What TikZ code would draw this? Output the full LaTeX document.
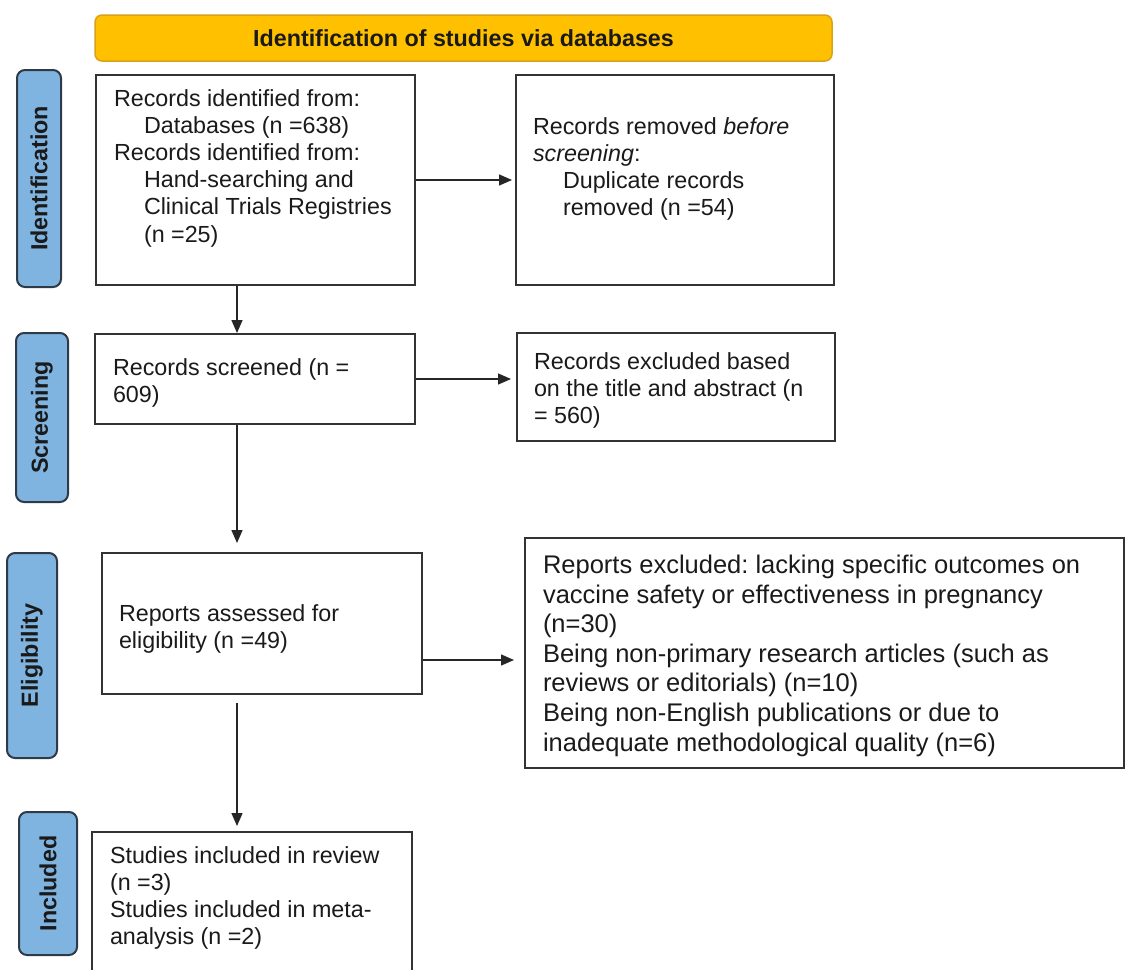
\documentclass[tikz,border=0pt]{standalone}
\usepackage{fontspec}
\setmainfont{Liberation Sans}
\usetikzlibrary{arrows.meta,calc}
\frenchspacing
\definecolor{bannerfill}{HTML}{FFC000}
\definecolor{bannerdraw}{HTML}{D9A21B}
\definecolor{labelfill}{HTML}{80B4E0}
\definecolor{labeldraw}{HTML}{2E3A45}
\definecolor{boxdraw}{HTML}{333333}
\definecolor{txt}{HTML}{1A1A1A}
\newcommand\bxt[5]{\begin{minipage}[c][#2pt][t]{#1pt}\vspace*{#4pt}\raggedright\leftskip=#3pt\relax\strut #5\par\end{minipage}}
\tikzset{
  txtstyle/.style={font=\fontsize{23.3}{27.2}\selectfont, text=txt},
  flowbox/.style={txtstyle, draw=boxdraw, line width=2pt, fill=white, inner sep=0pt, anchor=north west},
  phase/.style={draw=labeldraw, line width=2pt, fill=labelfill, rounded corners=8pt, rotate=90,
    inner sep=0pt, font=\bfseries\fontsize{23.3}{27}\selectfont, text=txt},
  banner/.style={draw=bannerdraw, line width=1.5pt, fill=bannerfill, rounded corners=7pt,
    inner sep=0pt, font=\bfseries\fontsize{23.3}{27}\selectfont, text=txt},
  arr/.style={draw=black!85, line width=1.4pt, -{Triangle[length=13pt,width=11pt]}}
}
\begin{document}
\begin{tikzpicture}[x=1pt,y=-1pt]
\useasboundingbox (0,0) rectangle (1126,969);
\fill[white] (0,0) rectangle (1126,969);
\clip (0,0) rectangle (1126,969);
\coordinate (cx) at (237,0);
% banner
\node[banner, minimum width=737pt, minimum height=46pt] (ban) at (463.5,38) {Identification of studies via databases};
% phase labels
\node[phase, minimum width=217pt, minimum height=44pt] (p1) at (39,178.5) {Identification};
\node[phase, minimum width=169pt, minimum height=52pt] (p2) at (42,417.5) {Screening};
\node[phase, minimum width=205pt, minimum height=50pt] (p3) at (32,655.5) {Eligibility};
\node[phase, minimum width=143pt, minimum height=58pt] (p4) at (48,883.5) {Included};
% boxes
\node[flowbox] (b1) at (95,74) {\bxt{319}{210}{18}{12}{Records identified from:\\
  \hspace*{30pt}Databases (n =638)\\
  Records identified from:\\
  \hspace*{30pt}Hand-searching and\\
  \hspace*{30pt}Clinical Trials Registries\\
  \hspace*{30pt}(n =25)}};
\node[flowbox] (b2) at (515,74) {\bxt{318}{210}{17}{40}{Records removed \textit{before}\\
  \textit{screening}:\\
  \hspace*{30pt}Duplicate records\\
  \hspace*{30pt}removed (n =54)}};
\node[flowbox] (b3) at (94,333) {\bxt{320}{90}{18}{22}{Records screened (n =\\609)}};
\node[flowbox] (b4) at (516,332) {\bxt{318}{108}{17}{17}{Records excluded based\\
  on the title and abstract (n\\= 560)}};
\node[flowbox] (b5) at (101,552) {\bxt{320}{141}{17}{49}{Reports assessed for\\eligibility (n =49)}};
\node[flowbox, font=\fontsize{25.5}{29.6}\selectfont] (b6) at (524,537) {\bxt{599}{230}{18}{14.8}{Reports excluded: lacking specific outcomes on\\
  vaccine safety or effectiveness in pregnancy\\
  (n=30)\\
  Being non-primary research articles (such as\\
  reviews or editorials) (n=10)\\
  Being non-English publications or due to\\
  inadequate methodological quality (n=6)}};
\node[flowbox] (b7) at (91,831) {\bxt{320}{160}{18}{12}{Studies included in review\\
  (n =3)\\
  Studies included in meta-\\
  analysis (n =2)}};
% connectors
\draw[arr, shorten >=3pt] (b1.east) -- (b1.east -| b2.west);
\draw[arr] (b1.south -| cx) -- (b3.north -| cx);
\draw[arr, shorten >=5pt] (b3.east) -- (b3.east -| b4.west);
\draw[arr, shorten >=9pt] (b3.south -| cx) -- (b5.north -| cx);
\coordinate (e5) at ($(b5.east)+(0,36.5)$);
\draw[arr, shorten >=10pt] (e5) -- (e5 -| b6.west);
\draw[arr, shorten <=8pt, shorten >=5pt] (b5.south -| cx) -- (b7.north -| cx);
\end{tikzpicture}
\end{document}
